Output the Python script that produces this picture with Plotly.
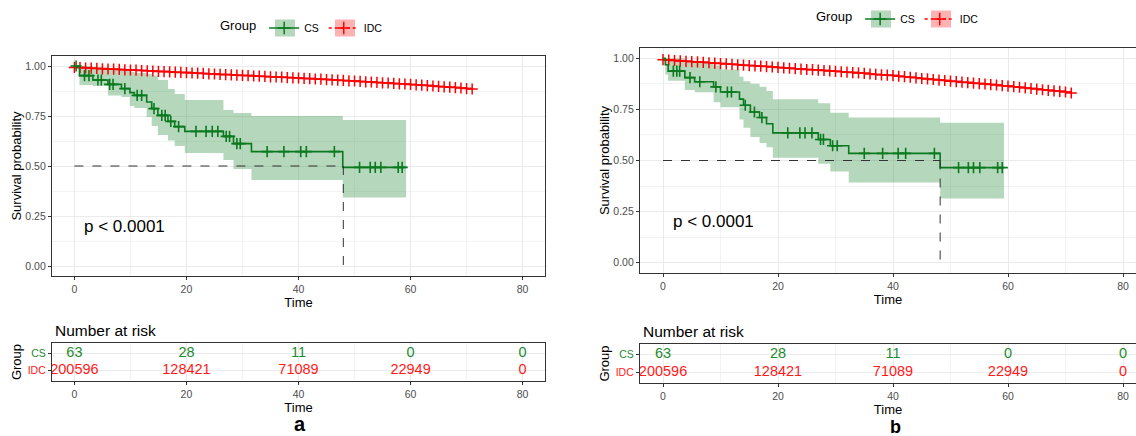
import bisect
import plotly.graph_objects as go

# ---------------- data ----------------
# Panel a : CS Kaplan-Meier (event times, survival, CI lower/upper)
a_cs_times = [0, 0.9, 3.3, 6.0, 8.4, 9.9, 10.7, 12.9, 13.8, 14.9, 16.7, 17.9, 19.7, 26.6, 28.4, 31.6, 47.9]
a_cs_surv = [1.0, 0.952, 0.930, 0.908, 0.887, 0.867, 0.853, 0.820, 0.787, 0.753, 0.723, 0.697, 0.673, 0.648, 0.612, 0.572, 0.493]
a_cs_lower = [1.0, 0.905, 0.900, 0.853, 0.845, 0.800, 0.790, 0.745, 0.700, 0.655, 0.628, 0.600, 0.565, 0.530, 0.485, 0.430, 0.342]
a_cs_upper = [1.0, 1.0, 0.995, 0.990, 0.980, 0.970, 0.965, 0.960, 0.953, 0.930, 0.885, 0.860, 0.830, 0.780, 0.765, 0.750, 0.730]
a_cs_end = 59.2
a_cs_censor = [0.3, 1.8, 2.6, 4.2, 4.8, 6.3, 6.9, 9.0, 11.2, 12.0, 14.2, 15.6, 16.2, 17.2, 18.6, 21.7, 23.5,
               24.6, 25.6, 27.1, 27.7, 29.0, 29.6, 34.4, 37.4, 40.4, 41.4, 46.4, 50.9, 52.8, 53.7, 54.7, 57.8, 58.5]
a_median = 48.0

# Panel a : IDC survival at monthly censor marks (0..71)
idc_times = list(range(0, 72))
a_idc_surv = [0.993, 0.992, 0.990, 0.989, 0.988, 0.986, 0.985, 0.984, 0.983, 0.981, 0.980,
              0.979, 0.977, 0.976, 0.975, 0.973, 0.972, 0.971, 0.969, 0.968, 0.967,
              0.965, 0.964, 0.963, 0.961, 0.960, 0.958, 0.957, 0.956, 0.954, 0.953,
              0.952, 0.950, 0.949, 0.948, 0.946, 0.945, 0.944, 0.942, 0.941, 0.940,
              0.938, 0.937, 0.935, 0.934, 0.932, 0.931, 0.929, 0.928, 0.926, 0.925,
              0.923, 0.921, 0.920, 0.918, 0.916, 0.915, 0.913, 0.911, 0.910, 0.908,
              0.906, 0.904, 0.902, 0.900, 0.898, 0.896, 0.894, 0.892, 0.890, 0.887, 0.885]

# Panel b : CS Kaplan-Meier
b_cs_times = [0, 0.4, 0.9, 3.8, 5.5, 8.8, 10.0, 13.3, 14.0, 15.2, 16.8, 18.0, 19.1, 27.0, 29.1, 32.3, 48.2]
b_cs_surv = [1.0, 0.968, 0.937, 0.905, 0.885, 0.860, 0.835, 0.800, 0.770, 0.737, 0.710, 0.680, 0.635, 0.603, 0.572, 0.535, 0.465]
b_cs_lower = [1.0, 0.920, 0.890, 0.845, 0.834, 0.785, 0.760, 0.700, 0.660, 0.615, 0.586, 0.565, 0.513, 0.484, 0.446, 0.393, 0.314]
b_cs_upper = [1.0, 1.0, 1.0, 0.990, 0.980, 0.965, 0.945, 0.910, 0.888, 0.875, 0.860, 0.840, 0.800, 0.780, 0.734, 0.710, 0.685]
b_cs_end = 59.3
b_cs_censor = [1.8, 2.4, 2.9, 4.7, 6.4, 9.2, 11.2, 11.9, 14.3, 15.9, 17.2, 21.7, 23.8, 24.7, 25.9, 27.4, 27.9,
               29.5, 30.3, 35.0, 38.2, 40.9, 42.2, 47.2, 51.4, 53.1, 54.0, 55.1, 58.2, 59.0]
b_median = 48.2

# Panel b : IDC survival at monthly censor marks (0..71)
b_idc_surv = [0.993, 0.991, 0.989, 0.987, 0.985, 0.983, 0.982, 0.980, 0.978, 0.976, 0.974,
              0.972, 0.970, 0.968, 0.966, 0.964, 0.963, 0.961, 0.959, 0.957, 0.955,
              0.953, 0.951, 0.949, 0.947, 0.945, 0.944, 0.942, 0.940, 0.938, 0.936,
              0.934, 0.932, 0.930, 0.928, 0.926, 0.923, 0.921, 0.919, 0.917, 0.915,
              0.912, 0.910, 0.907, 0.904, 0.901, 0.899, 0.896, 0.893, 0.891, 0.888,
              0.886, 0.883, 0.881, 0.878, 0.876, 0.874, 0.871, 0.869, 0.866, 0.864,
              0.861, 0.858, 0.855, 0.852, 0.849, 0.846, 0.843, 0.840, 0.838, 0.835, 0.830]

# Number at risk table
risk_times = [0, 20, 40, 60, 80]
risk_cs = [63, 28, 11, 0, 0]
risk_idc = [200596, 128421, 71089, 22949, 0]
groups = ["CS", "IDC"]
p_text = "p < 0.0001"

# ---------------- styling ----------------
W, H = 1136, 436
FONT = "Liberation Sans, Arial, sans-serif"
CS_COL = "#0a7a1e"
CS_FILL = "rgba(30,135,50,0.33)"
IDC_COL = "#ff0000"
IDC_FILL = "rgba(255,0,0,0.3)"
GRID = "#ebebeb"
MINOR = "#f3f3f3"
BORDER = "#333333"
TICKC = "#4d4d4d"


def fx(p):
    return p / W


def fy(p):
    return 1 - p / H


def step_lookup(times, vals, t):
    i = bisect.bisect_right(times, t) - 1
    return vals[max(i, 0)]


fig = go.Figure()


def add_km(xa, ya, cs_t, cs_s, cs_lo, cs_hi, cs_end, cs_cens, idc_s, median):
    kw = dict(xaxis=xa, yaxis=ya, showlegend=False, hoverinfo="skip")
    bx = cs_t + [cs_end]
    fig.add_trace(go.Scatter(x=bx, y=cs_lo + [cs_lo[-1]], mode="lines", line=dict(width=0, shape="hv"), **kw))
    fig.add_trace(go.Scatter(x=bx, y=cs_hi + [cs_hi[-1]], mode="lines", line=dict(width=0, shape="hv"),
                             fill="tonexty", fillcolor=CS_FILL, **kw))
    # IDC curve with censor marks
    fig.add_trace(go.Scatter(x=idc_times, y=idc_s, mode="lines+markers",
                             line=dict(color=IDC_COL, width=1.5, shape="hv"),
                             marker=dict(symbol="cross-thin", size=8, line=dict(color=IDC_COL, width=1.5)), **kw))
    # CS curve
    fig.add_trace(go.Scatter(x=bx, y=cs_s + [cs_s[-1]], mode="lines",
                             line=dict(color=CS_COL, width=1.6, shape="hv"), **kw))
    fig.add_trace(go.Scatter(x=cs_cens, y=[step_lookup(cs_t, cs_s, t) for t in cs_cens], mode="markers",
                             marker=dict(symbol="cross-thin", size=8, line=dict(color=CS_COL, width=1.6)), **kw))
    # median lines
    fig.add_trace(go.Scatter(x=[0, median], y=[0.5, 0.5], mode="lines",
                             line=dict(color=BORDER, width=1, dash="dash"), **kw))
    fig.add_trace(go.Scatter(x=[median, median], y=[0.5, 0], mode="lines",
                             line=dict(color=BORDER, width=1, dash="dash"), **kw))


add_km("x", "y", a_cs_times, a_cs_surv, a_cs_lower, a_cs_upper, a_cs_end, a_cs_censor, a_idc_surv, a_median)
add_km("x3", "y3", b_cs_times, b_cs_surv, b_cs_lower, b_cs_upper, b_cs_end, b_cs_censor, b_idc_surv, b_median)


def add_risk(xa, ya):
    kw = dict(xaxis=xa, yaxis=ya, showlegend=False, hoverinfo="skip", mode="text")
    fig.add_trace(go.Scatter(x=risk_times, y=[groups[0]] * len(risk_times), text=[str(v) for v in risk_cs],
                             textfont=dict(family=FONT, size=14.5, color="#1e8a2e"), **kw))
    fig.add_trace(go.Scatter(x=risk_times, y=[groups[1]] * len(risk_times), text=[str(v) for v in risk_idc],
                             textfont=dict(family=FONT, size=14.5, color="#ff1a1a"), **kw))


add_risk("x2", "y2")
add_risk("x4", "y4")

# legend entries (line + censor mark); key boxes are drawn as shapes behind them
for leg, xa, ya in (("legend", "x", "y"), ("legend2", "x3", "y3")):
    fig.add_trace(go.Scatter(x=[None], y=[None], name=groups[0], legend=leg, xaxis=xa, yaxis=ya,
                             mode="lines+markers", line=dict(color=CS_COL, width=1.5),
                             marker=dict(symbol="cross-thin", size=9, line=dict(color=CS_COL, width=1.5))))
    fig.add_trace(go.Scatter(x=[None], y=[None], name=groups[1], legend=leg, xaxis=xa, yaxis=ya,
                             mode="lines+markers", line=dict(color=IDC_COL, width=1.5, dash="dot"),
                             marker=dict(symbol="cross-thin", size=9, line=dict(color=IDC_COL, width=1.5))))


def xaxis_cfg(dom, rng, anchor, standoff):
    return dict(domain=dom, range=rng, anchor=anchor, tick0=0, dtick=20, showgrid=True, gridcolor=GRID, gridwidth=1,
                minor=dict(dtick=10, tick0=0, showgrid=True, gridcolor=MINOR, gridwidth=0.6),
                showline=True, linecolor=BORDER, linewidth=1.2, mirror=True, zeroline=False,
                ticks="outside", ticklen=3, tickcolor=BORDER, tickwidth=1,
                tickfont=dict(family=FONT, size=10.5, color=TICKC),
                title=dict(text="Time", font=dict(family=FONT, size=13, color="#000"), standoff=standoff),
                automargin=False, fixedrange=True)


def ykm_cfg(dom, mirror, anchor):
    return dict(domain=dom, range=[-0.05, 1.05], anchor=anchor, tick0=0, dtick=0.25, tickformat=".2f",
                showgrid=True, gridcolor=GRID, gridwidth=1,
                minor=dict(dtick=0.125, tick0=0, showgrid=True, gridcolor=MINOR, gridwidth=0.6),
                showline=True, linecolor=BORDER, linewidth=1.2, mirror=mirror, zeroline=False,
                ticks="outside", ticklen=3, tickcolor=BORDER, tickwidth=1,
                tickfont=dict(family=FONT, size=10.5, color=TICKC),
                title=dict(text="Survival probability", font=dict(family=FONT, size=13, color="#000"), standoff=0),
                automargin=False, fixedrange=True)


def yrisk_cfg(dom, mirror, anchor):
    return dict(domain=dom, anchor=anchor, type="category", categoryorder="array",
                categoryarray=[groups[1], groups[0]],
                range=[-0.6, 1.6], tickmode="array", tickvals=[groups[1], groups[0]],
                ticktext=['<span style="color:#ff1a1a">%s</span>' % groups[1],
                          '<span style="color:#1e8a2e">%s</span>' % groups[0]],
                showgrid=True, gridcolor=GRID, gridwidth=1,
                showline=True, linecolor=BORDER, linewidth=1.2, mirror=mirror, zeroline=False,
                ticks="outside", ticklen=3, tickcolor=BORDER, tickwidth=1,
                tickfont=dict(family=FONT, size=10.5),
                title=dict(text="Group", font=dict(family=FONT, size=13, color="#000"), standoff=3),
                automargin=False, fixedrange=True)


a_x = [fx(52), fx(545)]
b_x = [fx(640), 1.0]
b_xmax = -4 + (W - 640) / 5.75


def legend_cfg(xp, yp):
    return dict(title=dict(text="Group", font=dict(family=FONT, size=13, color="#000"), side="left"),
                orientation="h", x=fx(xp), xanchor="left", y=fy(yp), yanchor="middle", traceorder="normal",
                font=dict(family=FONT, size=10.5, color="#000"), bgcolor="rgba(0,0,0,0)",
                itemwidth=30, tracegroupgap=0)


LEG_A = (218, 28)
LEG_B = (814, 19)


def key_boxes(lx, ly):
    out = []
    for off, col in ((67, CS_FILL), (127, IDC_FILL)):
        cx = lx + off
        out.append(dict(type="rect", xref="paper", yref="paper", layer="above",
                        x0=fx(cx - 10), x1=fx(cx + 10), y0=fy(ly + 8.5), y1=fy(ly - 8.5),
                        fillcolor=col, line=dict(width=0)))
    return out


fig.update_layout(
    width=W, height=H, autosize=False,
    margin=dict(l=0, r=0, t=0, b=0),
    paper_bgcolor="white", plot_bgcolor="white",
    font=dict(family=FONT, color="#000"),
    xaxis=xaxis_cfg(a_x, [-4, 84], "y", 0),
    yaxis=ykm_cfg([fy(276), fy(56)], True, "x"),
    xaxis2=xaxis_cfg(a_x, [-4, 84], "y2", 1),
    yaxis2=yrisk_cfg([fy(381), fy(343)], True, "x2"),
    xaxis3=xaxis_cfg(b_x, [-4, b_xmax], "y3", 0),
    yaxis3=ykm_cfg([fy(273), fy(48)], False, "x3"),
    xaxis4=xaxis_cfg(b_x, [-4, b_xmax], "y4", 0),
    yaxis4=yrisk_cfg([fy(383), fy(344)], False, "x4"),
    legend=legend_cfg(*LEG_A),
    legend2=legend_cfg(*LEG_B),
    shapes=key_boxes(*LEG_A) + key_boxes(*LEG_B),
    annotations=[
        dict(text=p_text, xref="x", yref="y", x=1.3, y=0.2, xanchor="left", yanchor="middle",
             showarrow=False, font=dict(family=FONT, size=17, color="#000")),
        dict(text=p_text, xref="x3", yref="y3", x=1.4, y=0.2, xanchor="left", yanchor="middle",
             showarrow=False, font=dict(family=FONT, size=17, color="#000")),
        dict(text="Number at risk", xref="paper", yref="paper", x=fx(53), y=fy(330), xanchor="left",
             yanchor="middle", showarrow=False, font=dict(family=FONT, size=15.5, color="#000")),
        dict(text="Number at risk", xref="paper", yref="paper", x=fx(641), y=fy(331), xanchor="left",
             yanchor="middle", showarrow=False, font=dict(family=FONT, size=15.5, color="#000")),
        dict(text="<b>a</b>", xref="paper", yref="paper", x=fx(300), y=fy(424), xanchor="center",
             yanchor="middle", showarrow=False, font=dict(family=FONT, size=20, color="#000")),
        dict(text="<b>b</b>", xref="paper", yref="paper", x=fx(895), y=fy(427), xanchor="center",
             yanchor="middle", showarrow=False, font=dict(family=FONT, size=18, color="#000")),
    ],
)

fig.write_html("out.html", config={"displayModeBar": False},
               post_script="document.body.style.margin='0';document.body.style.overflow='hidden';")
